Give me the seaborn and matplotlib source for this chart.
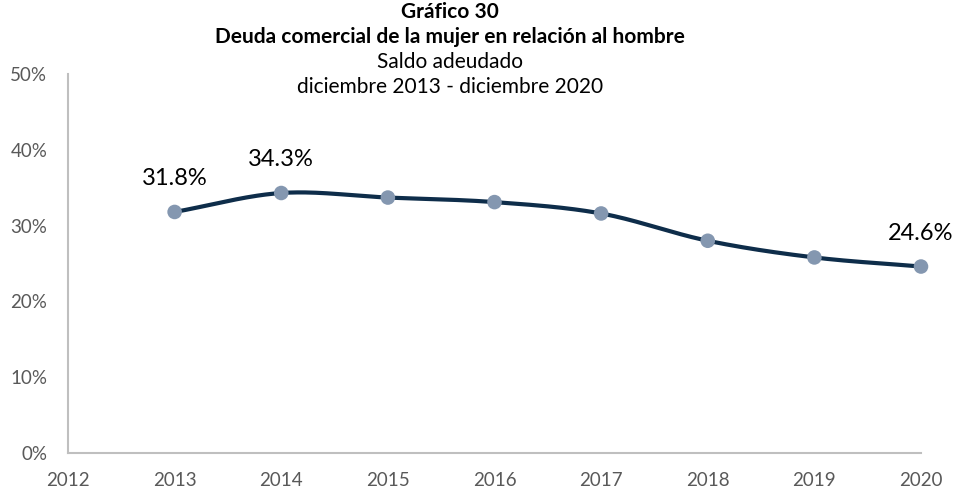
import numpy as np
import pandas as pd
import matplotlib
matplotlib.use("Agg")
import matplotlib.pyplot as plt
import seaborn as sns

years = [2013, 2014, 2015, 2016, 2017, 2018, 2019, 2020]
ratio = [31.8, 34.3, 33.7, 33.1, 31.6, 28.0, 25.8, 24.6]
labeled_years = [2013, 2014, 2020]
x_ticks = [2012, 2013, 2014, 2015, 2016, 2017, 2018, 2019, 2020]
y_ticks = [0, 10, 20, 30, 40, 50]

title_lines = ["Gráfico 30", "Deuda comercial de la mujer en relación al hombre"]
subtitle_lines = ["Saldo adeudado", "diciembre 2013 - diciembre 2020"]

sns.set_theme(style="white")
plt.rcParams["font.family"] = ["Lato", "DejaVu Sans"]

df = pd.DataFrame({"year": years, "ratio": ratio})


def catmull_rom(xs, ys, n=40):
    xs = np.asarray(xs, float)
    ys = np.asarray(ys, float)
    px = np.concatenate([[2 * xs[0] - xs[1]], xs, [2 * xs[-1] - xs[-2]]])
    py = np.concatenate([[2 * ys[0] - ys[1]], ys, [2 * ys[-1] - ys[-2]]])
    ox, oy = [], []
    t = np.linspace(0, 1, n, endpoint=False)
    for i in range(1, len(px) - 2):
        for arr, out in ((px, ox), (py, oy)):
            p0, p1, p2, p3 = arr[i - 1], arr[i], arr[i + 1], arr[i + 2]
            out.extend(0.5 * ((2 * p1) + (-p0 + p2) * t
                              + (2 * p0 - 5 * p1 + 4 * p2 - p3) * t ** 2
                              + (-p0 + 3 * p1 - 3 * p2 + p3) * t ** 3))
    ox.append(xs[-1])
    oy.append(ys[-1])
    return np.array(ox), np.array(oy)


sx, sy = catmull_rom(df["year"], df["ratio"])
smooth = pd.DataFrame({"year": sx, "ratio": sy})

fig = plt.figure(figsize=(9.56, 4.9), dpi=100)
ax = fig.add_axes([68 / 956, 1 - 453 / 490, (921 - 68) / 956, (453 - 74) / 490])

sns.lineplot(data=smooth, x="year", y="ratio", ax=ax, color="#0E2D4A",
             linewidth=3, sort=False, zorder=2)
sns.scatterplot(data=df, x="year", y="ratio", ax=ax, color="#8497B0",
                s=110, edgecolor="none", zorder=3, clip_on=False)

for yr, v in zip(years, ratio):
    if yr in labeled_years:
        ax.annotate(f"{v:.1f}%", (yr, v), xytext=(0, 24), textcoords="offset points",
                    ha="center", va="center", fontsize=17, color="#000000")

ax.set_xlim(2012, 2020)
ax.set_ylim(0, 50)
ax.set_xticks(x_ticks)
ax.set_xticklabels([str(t) for t in x_ticks])
ax.set_yticks(y_ticks)
ax.set_yticklabels([f"{t}%" for t in y_ticks])
ax.tick_params(axis="both", length=0, labelsize=13.5, labelcolor="#595959")
ax.tick_params(axis="x", pad=14)
ax.tick_params(axis="y", pad=15)
ax.set_xlabel("")
ax.set_ylabel("")
for s in ["top", "right"]:
    ax.spines[s].set_visible(False)
for s in ["left", "bottom"]:
    ax.spines[s].set_color("#BFBFBF")
    ax.spines[s].set_linewidth(1.5)

cx = 450 / 956
fig.text(cx, 1 - 12 / 490, title_lines[0], ha="center", va="center",
         fontsize=15, fontweight="bold", color="#000000")
fig.text(cx, 1 - 37 / 490, title_lines[1], ha="center", va="center",
         fontsize=15, fontweight="bold", color="#000000")
fig.text(cx, 1 - 62 / 490, subtitle_lines[0], ha="center", va="center",
         fontsize=15, color="#000000")
fig.text(cx, 1 - 87 / 490, subtitle_lines[1], ha="center", va="center",
         fontsize=15, color="#000000")

fig.savefig("out.png", dpi=100)
